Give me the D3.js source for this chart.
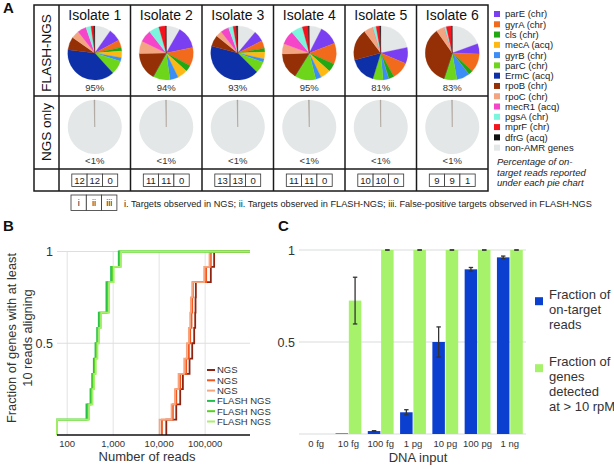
<!DOCTYPE html>
<html><head><meta charset="utf-8">
<script src="https://cdn.jsdelivr.net/npm/d3@7"></script>
<style>
body{margin:0;background:#fff;}
svg{display:block;font-family:"Liberation Sans",Arial,Helvetica,sans-serif;}
</style></head><body>
<svg id="chart" width="614" height="469"></svg>
<script>
// ---------- DATA ----------
const genes = ["parE (chr)","gyrA (chr)","cls (chr)","mecA (acq)","gyrB (chr)","parC (chr)","ErmC (acq)","rpoB (chr)","rpoC (chr)","mecR1 (acq)","pgsA (chr)","mprF (chr)","dfrG (acq)","non-AMR genes"];
const geneColors = ["#7b3ff2","#f26a1b","#22a812","#fdb813","#3a8ef6","#6ed61a","#0d2fa8","#952f05","#f3a582","#f545c8","#7bf5de","#f5141e","#111111","#e4e7e7"];
const isolates = ["Isolate 1","Isolate 2","Isolate 3","Isolate 4","Isolate 5","Isolate 6"];
// slice sizes (legend order: parE ... dfrG, non-AMR)
const isolate1 = [27,16,8,14,8,30,139,28,17,19,11,6,2,35];
const isolate2 = [48,40,14,22,18,37,0,60,27,26,22,15,1,30];
const isolate3 = [23,17,8,15,7,25,150,24,13,18,10,7,3,40];
const isolate4 = [42,45,18,22,12,46,0,56,22,30,25,13,2,27];
const isolate5 = [35,38,12,0,12,22,58,68,20,0,7,8,2,78];
const isolate6 = [22,40,10,0,28,28,0,127,18,0,4,12,1,70];
const flashPct = ["95%","94%","93%","95%","81%","83%"];
const ngsPct = ["<1%","<1%","<1%","<1%","<1%","<1%"];
const ngsOnTarget = [0.4,0.3,0.4,0.4,0.3,0.3]; // percent of reads
const ngsTargets = [12,11,13,11,10,9];
const flashTargets = [12,11,13,11,10,9];
const falsePositives = [0,0,0,0,0,1];
const keyLabels = ["i","ii","iii"];

// Panel B: read counts of each gene (sorted), per run
const ngsRun1 = [14300,23550,28710,32830,45810,52360,57810,60810,61800,62800,133000,157000];
const ngsRun2 = [11510,19910,23550,28710,38800,44290,47320,50590,52360,54080,105200,133000];
const ngsRun3 = [10240,18620,22020,26430,35080,40090,44290,47320,48950,52360,95300,124400];
const flashRun1 = [60,262,321,349,379,412,448,486,713,713,900,1321];
const flashRun2 = [60,281,337,366,398,433,462,511,762,762,962,1387];
const flashRun3 = [60,300,355,385,419,455,494,547,815,815,1028,1483];
const runNames = ["NGS","NGS","NGS","FLASH NGS","FLASH NGS","FLASH NGS"];
const runColors = ["#8e2410","#f4561e","#f6a67f","#22c04a","#55d120","#a8ef6c"];
const readTicks = [100,1000,10000,100000];

// Panel C
const dnaInput = ["0 fg","10 fg","100 fg","1 pg","10 pg","100 pg","1 ng"];
const onTarget = [0,0.003,0.016,0.118,0.5,0.895,0.96];
const onTargetErr = [null,null,0.002,0.014,0.082,0.01,0.007];
const genesDetected = [0,0.725,1,1,1,1,1];
const genesDetectedErr = [null,0.127,0,0,0,0,0];
const cColors = ["#0b3fd0","#a6f26b"];

// ---------- DRAW ----------
const svg = d3.select("#chart");
const txt = "#222";

// Panel letters
[["A",3,13],["B",3,231],["C",278,231]].forEach(([t,x,y])=>{
  svg.append("text").attr("x",x).attr("y",y).attr("font-size",15).attr("font-weight","bold").attr("fill","#111").text(t);
});

// ===== Panel A =====
const A = svg.append("g");
const col = d3.scaleBand().domain(isolates).range([59,488]);
const rowY = [5,96,169,191];
const tL = 34, tR = 488;
A.append("rect").attr("x",tL).attr("y",rowY[0]).attr("width",tR-tL).attr("height",rowY[3]-rowY[0])
 .attr("fill","none").attr("stroke","#1a1a1a").attr("stroke-width",1.5);
A.selectAll("line.v").data(isolates).join("line")
 .attr("x1",d=>col(d)).attr("x2",d=>col(d)).attr("y1",rowY[0]).attr("y2",rowY[3])
 .attr("stroke","#1a1a1a").attr("stroke-width",1.5);
A.selectAll("line.h").data([rowY[1],rowY[2]]).join("line")
 .attr("x1",tL).attr("x2",tR).attr("y1",d=>d).attr("y2",d=>d)
 .attr("stroke","#1a1a1a").attr("stroke-width",1.5);
[["FLASH-NGS",53],["NGS only",132]].forEach(([t,cy])=>{
  A.append("text").attr("transform",`translate(51,${cy}) rotate(-90)`).attr("text-anchor","middle")
   .attr("font-size",13.5).attr("fill","#111").text(t);
});
A.selectAll("text.iso").data(isolates).join("text")
 .attr("x",d=>col(d)+col.bandwidth()/2).attr("y",20).attr("text-anchor","middle")
 .attr("font-size",14).attr("fill","#111").text(d=>d);

const allSlices = [isolate1,isolate2,isolate3,isolate4,isolate5,isolate6];
const pieOrder = [13,0,1,2,3,4,5,6,7,8,9,10,11,12];
const pie = d3.pie().sort(null).value(d=>d.v);
const arc = d3.arc().innerRadius(0).outerRadius(27);
allSlices.forEach((vals,i)=>{
  const cx = col(isolates[i]) + col.bandwidth()/2;
  const g = A.append("g").attr("transform",`translate(${cx},53)`);
  const data = pieOrder.map(k=>({v:vals[k], c:geneColors[k]}));
  g.selectAll("path").data(pie(data)).join("path").attr("d",arc)
   .attr("fill",d=>d.data.c).attr("stroke",d=>d.data.c).attr("stroke-width",0.3);
  A.append("text").attr("x",cx).attr("y",91).attr("text-anchor","middle").attr("font-size",9.5).attr("fill","#333").text(flashPct[i]);
  const g2 = A.append("g").attr("transform",`translate(${cx},127)`);
  const t = ngsOnTarget[i]/100;
  const d2 = [{v:1-t,c:"#e4e7e7",s:0},{v:t,c:"#a39890",s:0.5}];
  g2.selectAll("path").data(pie(d2)).join("path").attr("d",arc)
   .attr("fill",d=>d.data.c).attr("stroke",d=>d.data.s?d.data.c:"none").attr("stroke-width",d=>d.data.s);
  A.append("text").attr("x",cx).attr("y",164).attr("text-anchor","middle").attr("font-size",9.5).attr("fill","#333").text(ngsPct[i]);
  const counts = [ngsTargets[i],flashTargets[i],falsePositives[i]];
  const cw = 15.3, bx = cx - cw*1.5, by = 174, bh = 12.5;
  counts.forEach((c,j)=>{
    A.append("rect").attr("x",bx+j*cw).attr("y",by).attr("width",cw).attr("height",bh)
     .attr("fill","#fff").attr("stroke","#333").attr("stroke-width",0.8);
    A.append("text").attr("x",bx+j*cw+cw/2).attr("y",by+bh/2+3.4).attr("text-anchor","middle")
     .attr("font-size",9.5).attr("fill","#222").text(c);
  });
});
{
  const cw = 15.3, bx = 71, by = 195, bh = 15.5;
  keyLabels.forEach((k,j)=>{
    A.append("rect").attr("x",bx+j*cw).attr("y",by).attr("width",cw).attr("height",bh)
     .attr("fill","#fff").attr("stroke","#333").attr("stroke-width",0.8);
    A.append("text").attr("x",bx+j*cw+cw/2).attr("y",by+bh/2+3.3).attr("text-anchor","middle")
     .attr("font-size",9).attr("fill","#222").text(k);
  });
  A.append("text").attr("x",124).attr("y",206.5).attr("font-size",9.2).attr("fill","#222")
   .text("i. Targets observed in NGS; ii. Targets observed in FLASH-NGS; iii. False-positive targets observed in FLASH-NGS");
}
const legA = A.append("g");
genes.forEach((gname,k)=>{
  const cy = 14 + k*10.28;
  legA.append("rect").attr("x",494).attr("y",cy-3).attr("width",6).attr("height",6).attr("fill",geneColors[k]);
  legA.append("text").attr("x",505).attr("y",cy+3.4).attr("font-size",9.5).attr("fill",txt).text(gname);
});
["Percentage of on-","target reads reported","under each pie chart"].forEach((l,k)=>{
  legA.append("text").attr("x",497).attr("y",165+k*10.6).attr("font-size",9.5).attr("font-style","italic").attr("fill",txt).text(l);
});

// ===== Panel B =====
const B = svg.append("g");
const xB = d3.scaleLog().domain([60,946000]).range([57,250]);
const yB = d3.scaleLinear().domain([0,1]).range([435,251.5]);
B.selectAll("line.vg").data(readTicks).join("line")
 .attr("x1",d=>xB(d)).attr("x2",d=>xB(d)).attr("y1",yB(1)).attr("y2",yB(0))
 .attr("stroke","#e3e3e3").attr("stroke-width",1);
B.selectAll("line.hg").data([0.5,1]).join("line")
 .attr("x1",57).attr("x2",250).attr("y1",d=>yB(d)).attr("y2",d=>yB(d))
 .attr("stroke","#dedede").attr("stroke-width",1);
B.selectAll("text.xt").data(readTicks).join("text")
 .attr("x",d=>xB(d)).attr("y",446.5).attr("text-anchor","middle").attr("font-size",9.5).attr("fill","#333")
 .text(d=>d3.format(",")(d));
B.selectAll("text.yt").data([0.5,1]).join("text")
 .attr("x",53).attr("y",d=>yB(d)+4.5).attr("text-anchor","end").attr("font-size",12.5).attr("fill","#333")
 .text(d=>d===1?"1":"0.5");
B.append("text").attr("x",147).attr("y",461).attr("text-anchor","middle").attr("font-size",13).attr("fill","#333").text("Number of reads");
B.append("text").attr("transform","translate(16,338) rotate(-90)").attr("text-anchor","middle").attr("font-size",12.8).attr("fill","#333").text("Fraction of genes with at least");
B.append("text").attr("transform","translate(32,338) rotate(-90)").attr("text-anchor","middle").attr("font-size",12.8).attr("fill","#333").text("10 reads aligning");
svg.append("clipPath").attr("id","clipB").append("rect").attr("x",56).attr("y",245).attr("width",195).attr("height",192);
const runs = [ngsRun1,ngsRun2,ngsRun3,flashRun1,flashRun2,flashRun3];
const lineB = d3.line().x(d=>xB(d[0])).y(d=>yB(d[1])).curve(d3.curveStepAfter);
runs.forEach((r,i)=>{
  const n = r.length;
  const pts = [[r[0],0]];
  r.forEach((v,j)=>pts.push([v,(j+1)/n]));
  pts.push([946000,1]);
  B.append("path").attr("d",lineB(pts)).attr("fill","none").attr("stroke",runColors[i])
   .attr("stroke-width",1.8).attr("clip-path","url(#clipB)");
});
B.append("line").attr("x1",57).attr("x2",250).attr("y1",yB(0)).attr("y2",yB(0)).attr("stroke","#111").attr("stroke-width",1.5);
runNames.forEach((nm,i)=>{
  const cy = 370 + i*10.3;
  B.append("line").attr("x1",207).attr("x2",215).attr("y1",cy).attr("y2",cy).attr("stroke",runColors[i]).attr("stroke-width",2);
  B.append("text").attr("x",217).attr("y",cy+3.4).attr("font-size",9.5).attr("fill","#333").text(nm);
});

// ===== Panel C =====
const C = svg.append("g");
const xC = d3.scaleBand().domain(dnaInput).range([300,526]).paddingInner(0.2).paddingOuter(0.1);
const xC1 = d3.scaleBand().domain([0,1]).range([0,xC.bandwidth()]).paddingInner(0.06);
const yC = d3.scaleLinear().domain([0,1]).range([434,250]);
C.selectAll("line.g").data([0,0.5,1]).join("line")
 .attr("x1",299).attr("x2",526).attr("y1",d=>yC(d)).attr("y2",d=>yC(d))
 .attr("stroke","#d9dede").attr("stroke-width",1.2);
C.selectAll("text.yt").data([0.5,1]).join("text")
 .attr("x",295).attr("y",d=>yC(d)+4.5).attr("text-anchor","end").attr("font-size",12.5).attr("fill","#333")
 .text(d=>d===1?"1":"0.5");
const series = [[onTarget,onTargetErr],[genesDetected,genesDetectedErr]];
series.forEach(([vals,errs],s)=>{
  C.selectAll(null).data(dnaInput).join("rect")
   .attr("x",d=>xC(d)+xC1(s)).attr("width",xC1.bandwidth())
   .attr("y",(d,i)=>yC(vals[i])).attr("height",(d,i)=>yC(0)-yC(vals[i]))
   .attr("fill",cColors[s]);
});
series.forEach(([vals,errs],s)=>{
  dnaInput.forEach((d,i)=>{
    if(errs[i]===null) return;
    const cx = xC(d)+xC1(s)+xC1.bandwidth()/2;
    const y1 = yC(vals[i]+errs[i]), y2 = yC(vals[i]-errs[i]);
    const g = C.append("g").attr("stroke","#333").attr("stroke-width",1.3);
    g.append("line").attr("x1",cx).attr("x2",cx).attr("y1",y1).attr("y2",y2);
    g.append("line").attr("x1",cx-2.2).attr("x2",cx+2.2).attr("y1",y1).attr("y2",y1);
    g.append("line").attr("x1",cx-2.2).attr("x2",cx+2.2).attr("y1",y2).attr("y2",y2);
  });
});
C.selectAll("text.xt").data(dnaInput).join("text")
 .attr("x",d=>xC(d)+xC.bandwidth()/2).attr("y",446.5).attr("text-anchor","middle").attr("font-size",9.5).attr("fill","#333").text(d=>d);
C.append("text").attr("x",418).attr("y",462).attr("text-anchor","middle").attr("font-size",13).attr("fill","#333").text("DNA  input");
const legC = [[["Fraction of","on-target","reads"],294],[["Fraction of","genes","detected","at > 10 rpM"],361]];
legC.forEach(([lines,y0],s)=>{
  C.append("rect").attr("x",535).attr("y",y0+3.2).attr("width",8).attr("height",8).attr("fill",cColors[s]);
  lines.forEach((l,k)=>{
    C.append("text").attr("x",549).attr("y",y0+k*15+4.5).attr("font-size",13).attr("fill","#333").text(l);
  });
});
</script>
</body></html>
